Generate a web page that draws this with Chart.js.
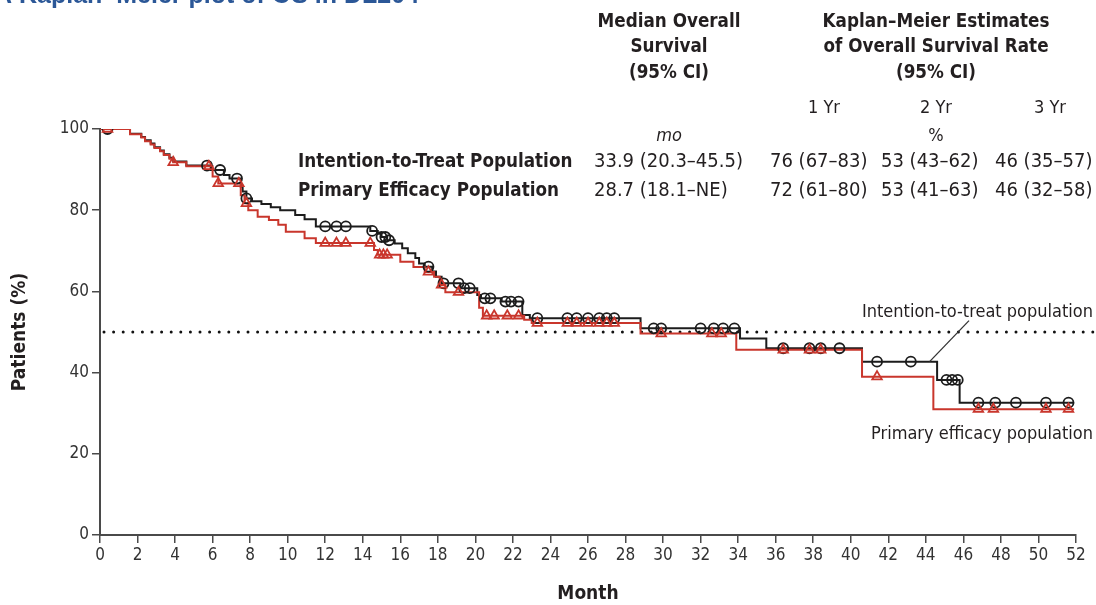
<!DOCTYPE html>
<html>
<head>
<meta charset="utf-8">
<script src="https://cdn.jsdelivr.net/npm/chart.js@4.4.0/dist/chart.umd.min.js"></script>
<style>
  html, body { margin: 0; padding: 0; background: #fff; }
</style>
</head>
<body>
<canvas id="kmChart" width="1096" height="605"></canvas>
<script>
const FONT = '"Liberation Sans Narrow", "DejaVu Sans Condensed", "Liberation Sans", sans-serif';
const INK = '#231f20';
const BLACK = '#1c1c1c';
const RED = '#c9362c';

// Kaplan-Meier steps, intention-to-treat population (month, % alive)
const ittMonths = [0, 1.6, 2.2, 2.4, 2.7, 2.9, 3.2, 3.4, 3.7, 3.9, 4.6, 5.9, 6.6, 6.9, 7.5, 7.6, 7.8, 8.1, 8.6, 9.1, 9.6, 10.4, 10.9, 11.5,
  14.4, 14.8, 15.0, 15.3, 15.7, 16.1, 16.4, 16.8, 17.0, 17.3, 17.7, 17.9, 18.2, 19.2, 20.1, 20.3, 21.4, 22.5, 22.9,
  28.8, 34.1, 35.5, 40.6, 44.6, 45.8, 51.9];
const ittSurv = [100, 98.8, 98.0, 97.2, 96.4, 95.5, 94.7, 93.8, 92.9, 92.0, 91.0, 89.9, 88.7, 87.8, 85.8, 84.6, 82.9, 82.2, 81.5, 80.7, 80.0, 78.8, 77.8, 76.0,
  74.9, 74.2, 73.4, 72.6, 71.8, 70.6, 69.4, 68.2, 66.9, 66.1, 64.9, 63.6, 62.0, 60.8, 59.1, 58.3, 57.5, 54.2, 53.4,
  50.9, 48.4, 46.0, 42.7, 38.2, 32.6, 32.6];
const ittCensor = [0.4, 5.7, 6.4, 7.3, 7.8, 12.0, 12.6, 13.1, 14.5, 15.0, 15.2, 15.4, 17.5, 18.3, 19.1, 19.4, 19.7, 20.5, 20.8,
  21.6, 21.9, 22.3, 23.3, 24.9, 25.4, 26.0, 26.6, 27.0, 27.4, 29.5, 29.9, 32.0, 32.7, 33.2, 33.8, 36.4, 37.8, 38.4, 39.4,
  41.4, 43.2, 45.1, 45.4, 45.7, 46.8, 47.7, 48.8, 50.4, 51.6];

// Kaplan-Meier steps, primary efficacy population
const pepMonths = [0, 1.6, 2.2, 2.4, 2.7, 2.9, 3.2, 3.4, 3.7, 3.9, 4.6, 6.0, 6.3, 7.5, 7.7, 7.9, 8.4, 9.0, 9.5, 9.9, 10.9, 11.5,
  14.6, 14.8, 16.0, 16.7, 17.3, 17.8, 18.1, 18.4, 20.2, 20.4, 22.6, 23.0, 28.8, 33.9, 40.6, 44.4, 51.9];
const pepSurv = [100, 98.7, 97.9, 97.0, 96.2, 95.3, 94.5, 93.6, 92.7, 91.8, 90.8, 88.3, 86.6, 83.7, 81.7, 80.0, 78.4, 77.6, 76.4, 74.7, 73.1, 71.9,
  70.2, 69.0, 67.3, 66.0, 64.8, 63.6, 61.6, 59.8, 56.0, 54.0, 53.0, 52.2, 49.6, 45.6, 39.0, 31.0, 31.0];
const pepCensor = [0.4, 3.9, 5.8, 6.3, 7.4, 7.8, 12.0, 12.6, 13.1, 14.4, 14.9, 15.1, 15.3, 17.5, 18.2, 19.1, 20.6, 21.0, 21.7, 22.3,
  23.3, 24.9, 25.4, 26.0, 26.6, 27.0, 27.4, 29.9, 32.6, 33.1, 36.4, 37.8, 38.4, 41.4, 46.8, 47.6, 50.4, 51.6];

const xTicks = [0, 52, 2];      // min, max, step
const yTicks = [0, 100, 20];
const medianLevel = 50;

// table above the plot
const rowNames = ['Intention-to-Treat Population', 'Primary Efficacy Population'];
const medianOS = ['33.9 (20.3\u201345.5)', '28.7 (18.1\u2013NE)'];
const rate1Yr = ['76 (67\u201383)', '72 (61\u201380)'];
const rate2Yr = ['53 (43\u201362)', '53 (41\u201363)'];
const rate3Yr = ['46 (35\u201357)', '46 (32\u201358)'];

function survAt(months, surv, t) {
  let v = surv[0];
  for (let i = 0; i < months.length; i++) if (months[i] <= t) v = surv[i];
  return v;
}
const toPts = (m, s) => m.map((x, i) => ({ x: x, y: s[i] }));
const censorPts = (c, m, s) => c.map(x => ({ x: x, y: survAt(m, s, x) }));

const extras = {
  id: 'extras',
  beforeDatasetsDraw(chart) {
    const { ctx, scales: { y }, chartArea } = chart;
    const py = y.getPixelForValue(medianLevel);
    ctx.save();
    ctx.strokeStyle = '#111';
    ctx.lineWidth = 3;
    ctx.lineCap = 'round';
    ctx.setLineDash([0, 9.6]);
    ctx.beginPath();
    ctx.moveTo(chartArea.left + 4, py);
    ctx.lineTo(1094, py);
    ctx.stroke();
    ctx.restore();
  },
  afterDraw(chart) {
    const { ctx, scales: { x, y } } = chart;
    ctx.save();

    // partly cropped figure title
    ctx.fillStyle = '#2b5797';
    ctx.font = 'bold 25px "Liberation Sans", sans-serif';
    ctx.textAlign = 'left';
    ctx.textBaseline = 'alphabetic';
    ctx.fillText('A Kaplan\u2013Meier plot of OS in DL204', -6, 3);

    ctx.fillStyle = INK;
    ctx.textBaseline = 'middle';
    ctx.textAlign = 'center';
    ctx.font = 'bold 18.7px ' + FONT;
    ['Median Overall', 'Survival', '(95% CI)'].forEach((t, i) => ctx.fillText(t, 669, 22 + i * 25.5));
    ['Kaplan\u2013Meier Estimates', 'of Overall Survival Rate', '(95% CI)'].forEach((t, i) => ctx.fillText(t, 936, 22 + i * 25.5));

    ctx.font = '18px ' + FONT;
    ctx.fillText('1 Yr', 824, 108);
    ctx.fillText('2 Yr', 936, 108);
    ctx.fillText('3 Yr', 1050, 108);
    ctx.fillText('%', 936, 136);
    ctx.font = 'italic 18px ' + FONT;
    ctx.fillText('mo', 669, 136);

    ctx.textAlign = 'left';
    rowNames.forEach((t, i) => {
      const ry = 162 + i * 29;
      ctx.font = 'bold 18.7px ' + FONT;
      ctx.fillText(t, 298, ry);
      ctx.font = '20px ' + FONT;
      ctx.fillText(medianOS[i], 594, ry);
      ctx.fillText(rate1Yr[i], 770, ry);
      ctx.fillText(rate2Yr[i], 881, ry);
      ctx.fillText(rate3Yr[i], 995, ry);
    });

    // curve labels
    ctx.textAlign = 'right';
    ctx.font = '18px ' + FONT;
    ctx.fillText('Intention-to-treat population', 1093, 312);
    ctx.fillText('Primary efficacy population', 1093, 434);

    // leader line
    ctx.strokeStyle = '#333';
    ctx.lineWidth = 1.3;
    ctx.beginPath();
    ctx.moveTo(x.getPixelForValue(44.2), y.getPixelForValue(42.7));
    ctx.lineTo(x.getPixelForValue(46.3), y.getPixelForValue(52.8));
    ctx.stroke();
    ctx.restore();
  }
};

new Chart(document.getElementById('kmChart'), {
  type: 'line',
  data: {
    datasets: [
      { label: 'PEP censored', data: censorPts(pepCensor, pepMonths, pepSurv), showLine: false,
        pointStyle: 'triangle', pointRadius: 5.5, borderColor: RED, backgroundColor: 'rgba(255,255,255,0)',
        pointBorderWidth: 1.8, order: 0 },
      { label: 'ITT censored', data: censorPts(ittCensor, ittMonths, ittSurv), showLine: false,
        pointStyle: 'circle', pointRadius: 5, borderColor: BLACK, backgroundColor: 'rgba(255,255,255,0)',
        pointBorderWidth: 1.8, order: 1 },
      { label: 'Primary efficacy population', data: toPts(pepMonths, pepSurv), stepped: 'before',
        borderColor: RED, borderWidth: 2, pointRadius: 0, fill: false, order: 2 },
      { label: 'Intention-to-treat population', data: toPts(ittMonths, ittSurv), stepped: 'before',
        borderColor: BLACK, borderWidth: 2, pointRadius: 0, fill: false, order: 3 }
    ]
  },
  options: {
    responsive: false,
    animation: false,
    devicePixelRatio: 1,
    layout: { padding: { top: 129, right: 20, left: 0, bottom: 0 } },
    plugins: { legend: { display: false }, tooltip: { enabled: false } },
    scales: {
      x: {
        type: 'linear', min: xTicks[0], max: xTicks[1],
        afterFit: s => { s.height = 70; },
        border: { color: '#4a4a4a', width: 2 },
        grid: { drawOnChartArea: false, tickLength: 8, color: '#4a4a4a', lineWidth: 1.5 },
        ticks: { stepSize: xTicks[2], color: '#333', padding: 2, font: { family: FONT, size: 17 } },
        title: { display: true, text: 'Month', color: INK, padding: { top: 0, bottom: 0 },
          font: { family: FONT, size: 19, weight: 'bold' } }
      },
      y: {
        min: yTicks[0], max: yTicks[1],
        afterFit: s => { s.width = 100; },
        border: { color: '#4a4a4a', width: 2 },
        grid: { drawOnChartArea: false, tickLength: 8, color: '#4a4a4a', lineWidth: 1.5 },
        ticks: { stepSize: yTicks[2], color: '#333', padding: 3, font: { family: FONT, size: 17 } },
        title: { display: true, text: 'Patients (%)', color: INK, padding: { top: 9, bottom: 0 },
          font: { family: FONT, size: 19, weight: 'bold' } }
      }
    }
  },
  plugins: [extras]
});
</script>
</body>
</html>
